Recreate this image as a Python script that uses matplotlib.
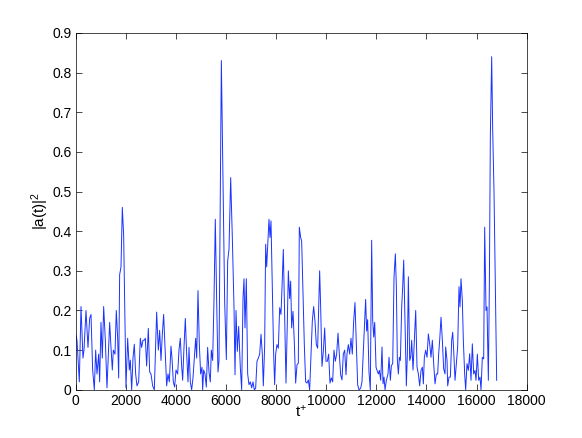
import numpy as np
import matplotlib
matplotlib.use("Agg")
import matplotlib.pyplot as plt
from matplotlib.ticker import FuncFormatter

# Значения: пары (t+, |a(t)|^2) по участкам
seg1 = [(0, .14), (53, .125), (146, .02), (213, .21), (292, .08), (332, .10),
        (412, .20), (492, .107), (558, .18), (612, .19), (678, .05), (745, 0),
        (798, .10), (851, .04), (918, .09), (957, .02), (1011, .17), (1064, .08),
        (1117, .21), (1184, .125), (1250, .005), (1303, .09), (1357, .17),
        (1410, .107), (1463, .05), (1503, .10), (1569, .09), (1622, .20),
        (1676, .13), (1716, .03), (1755, .29), (1809, .31), (1862, .46),
        (1915, .39), (1968, .18), (2008, .005)]
seg2 = [(2075, .13), (2141, .05), (2181, .075), (2235, 0), (2288, .08),
        (2341, .115), (2394, .04), (2447, .01), (2514, .02), (2580, .13),
        (2634, .107), (2687, .125), (2740, .125), (2780, .13), (2833, .06),
        (2900, .155), (2953, .045), (3006, .04), (3073, .01), (3139, 0),
        (3192, .107), (3232, .196), (3299, .10), (3352, .15), (3405, .074),
        (3458, .14), (3511, .19), (3578, .09), (3631, .01), (3684, .04),
        (3738, .02), (3804, .11), (3844, .08), (3897, .02), (3950, .007),
        (4004, .05), (4070, .04), (4123, .10), (4176, .13), (4230, .06)]
seg3 = [(4270, .024), (4323, .107), (4376, .18), (4430, .09), (4483, .02),
        (4523, .107), (4576, .02), (4629, 0), (4682, .03), (4735, .08),
        (4789, .13), (4829, .08), (4882, .25), (4935, .115), (4988, .04),
        (5041, .057), (5068, 0), (5108, .05), (5161, .04), (5214, .007),
        (5267, .107), (5321, .045), (5374, .02), (5414, .10), (5467, .074),
        (5520, .225), (5573, .43), (5627, .225), (5680, .045), (5720, .074)]
seg4 = [(5814, .83), (5947, .22), (6013, .076), (6066, .325), (6119, .354),
        (6186, .535), (6252, .384), (6319, .207), (6359, .038), (6399, .20),
        (6452, .097), (6505, .16), (6572, .055), (6625, 0), (6678, .23),
        (6718, .28), (6758, .156), (6811, .28), (6864, .04), (6917, .013),
        (6971, .02), (7024, .005), (7077, .02), (7130, 0), (7183, .004),
        (7236, .072), (7290, .08), (7343, .09), (7396, .14), (7449, .09),
        (7489, .01), (7542, .11), (7582, .367), (7622, .31), (7662, .36),
        (7715, .43), (7755, .384), (7795, .426), (7848, .257), (7901, .09),
        (7941, .013), (7981, .09)]
seg5 = [(8034, .114), (8088, .105), (8141, .207), (8194, .19), (8234, .257),
        (8287, .354), (8340, .18), (8394, .017), (8447, .17), (8487, .30),
        (8540, .23), (8580, .274), (8620, .156), (8673, .198), (8726, .12),
        (8779, .017), (8833, .063), (8886, .067), (8926, .41), (8979, .384),
        (9019, .375), (9072, .24), (9125, .114), (9178, .02), (9232, .017),
        (9285, .025), (9338, 0), (9391, .09), (9444, .173), (9498, .21),
        (9551, .173), (9604, .114), (9657, .105), (9697, .207), (9737, .30),
        (9777, .21), (9830, .059), (9884, .097), (9937, .156), (9990, .072)]
seg6 = [(10043, .072), (10096, .09), (10149, .017), (10203, .03), (10256, .02),
        (10309, .10), (10362, .072), (10415, .09), (10469, .143), (10522, .09),
        (10575, .038), (10628, .025), (10681, .09), (10735, .10), (10788, .038),
        (10828, .09), (10881, .114), (10934, .09), (10987, .13), (11040, .09),
        (11094, .173), (11147, .22), (11200, .12), (11253, .013), (11307, 0),
        (11373, .004), (11426, .02), (11479, .097), (11532, .173), (11572, .228),
        (11612, .148), (11652, .177), (11705, .046), (11759, 0), (11812, .377)]
seg7 = [(11854, .175), (11894, .133), (11934, .17), (11987, .057), (12027, .049),
        (12080, .04), (12120, .049), (12173, .024), (12226, .108), (12266, .015),
        (12306, .032), (12346, 0), (12399, .024), (12465, .04), (12505, .082),
        (12559, .024), (12599, .061), (12652, .066), (12705, .285), (12758, .343),
        (12798, .26), (12838, .074), (12878, .04), (12918, .082), (12958, .074),
        (13011, .209), (13051, .26), (13091, .327), (13144, .167), (13197, .01),
        (13237, .09), (13277, .285), (13330, .074), (13370, .082), (13410, .125),
        (13463, .05), (13516, .125), (13570, .2), (13623, .057), (13676, .04),
        (13729, .01), (13782, .049), (13835, .057), (13875, .015), (13915, .082),
        (13968, .10)]
seg8 = [(14022, .082), (14075, .141), (14128, .116), (14181, .082), (14234, .125),
        (14288, .066), (14341, .015), (14394, .04), (14447, .04), (14487, .091),
        (14527, .125), (14580, .183), (14633, .125), (14686, .053), (14740, .04),
        (14766, .108), (14820, .074), (14846, .01), (14899, .032), (14953, .032),
        (15006, .125), (15046, .145), (15086, .099), (15139, .024), (15192, .066),
        (15245, .108), (15298, .26), (15338, .209), (15378, .28), (15431, .225),
        (15471, .125), (15524, .04), (15564, 0), (15617, .066), (15670, .049),
        (15724, .091), (15777, .024), (15830, .116), (15884, .04), (15937, .049),
        (15977, .024), (16030, .09), (16083, .024), (16136, .032), (16176, 0),
        (16229, .082), (16283, .078), (16323, .41), (16376, .2), (16416, .209),
        (16469, .024), (16509, .26), (16549, .64), (16602, .84), (16642, .655),
        (16695, .5), (16748, .26), (16801, .024)]

x_ticks = np.arange(0, 18001, 2000)
y_ticks = np.arange(0, 0.91, 0.1)


def main():
    plt.rcParams['font.family'] = ['Liberation Sans', 'DejaVu Sans']
    plt.rcParams['mathtext.default'] = 'regular'
    plt.rcParams['font.size'] = 10

    points = seg1 + seg2 + seg3 + seg4 + seg5 + seg6 + seg7 + seg8
    t_plus = [p[0] for p in points]
    a_sq = [p[1] for p in points]

    fig = plt.figure(figsize=(5.82, 4.38), dpi=100)
    # положение осей как в MATLAB по умолчанию
    ax = fig.add_axes([0.13, 0.11, 0.775, 0.815])
    ax.plot(t_plus, a_sq, color=(0.1, 0.2, 1.0), linewidth=0.7)

    ax.set_xlim(0, 18000)
    ax.set_ylim(0, 0.9)
    ax.set_xticks(x_ticks)
    ax.set_yticks(y_ticks)
    ax.yaxis.set_major_formatter(FuncFormatter(lambda v, p: f'{v:g}'))
    ax.xaxis.set_major_formatter(FuncFormatter(lambda v, p: f'{v:g}'))
    ax.tick_params(direction='in', top=True, right=True, length=4,
                   width=0.5, labelsize=10, pad=3)
    for s in ax.spines.values():
        s.set_linewidth(0.5)

    ax.set_xlabel('t$^{+}$', fontsize=11, labelpad=-3)
    ax.set_ylabel('|a(t)|$^{2}$', fontsize=11, labelpad=1)

    fig.savefig('out.png', dpi=100)


if __name__ == "__main__":
    main()
